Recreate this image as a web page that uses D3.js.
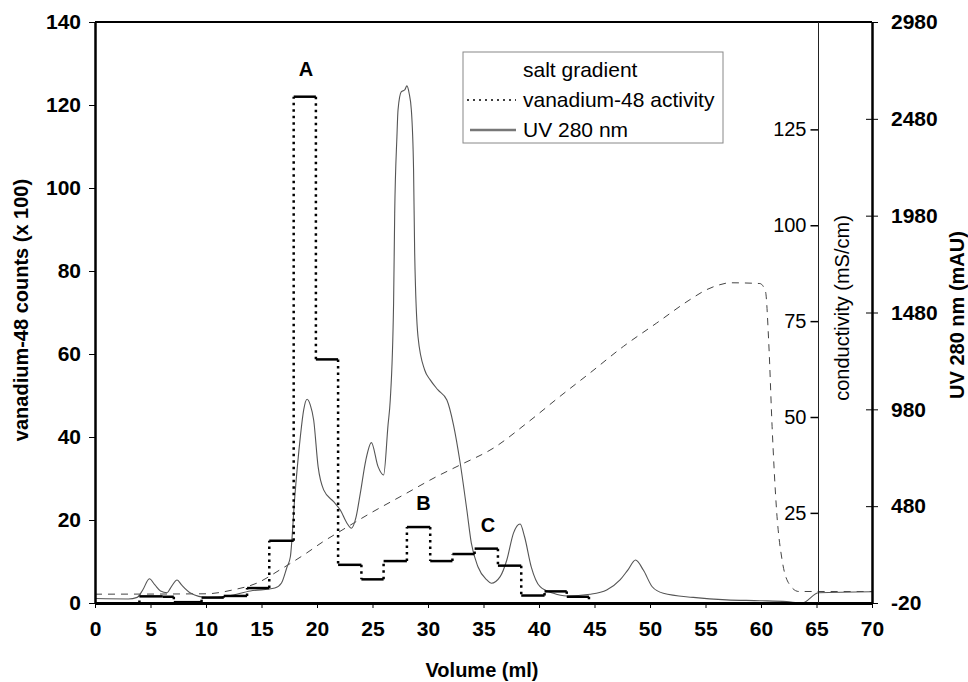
<!DOCTYPE html>
<html>
<head>
<meta charset="utf-8">
<script src="https://cdn.jsdelivr.net/npm/d3@7"></script>
<style>
  body { margin: 0; background: #fff; }
  svg { display: block; font-family: "Liberation Sans", Arial, sans-serif; }
</style>
</head>
<body>
<div id="vis"></div>
<script>
const width = 968;
const height = 682;

// vanadium-48 fractions: edges (ml) and counts (x 100) between them
const fracEdges = [4.0, 6.1, 7.1, 9.6, 11.6, 13.7, 15.7, 17.9, 19.9, 21.9, 24.0, 26.0, 28.1, 30.2, 32.2, 34.2, 36.3, 38.4, 40.5, 42.5, 44.5];
const fracCounts = [1.6, 1.5, 0.2, 1.3, 1.7, 3.6, 15, 122, 58.7, 9.2, 5.7, 10.1, 18.3, 10.1, 11.8, 13.1, 9.0, 1.8, 2.8, 1.5];

// UV 280 nm trace (ml, mAU)
const uvVolume = [0, 3.0, 3.8, 4.3, 4.9, 5.4, 5.9, 6.5, 6.8, 7.4, 7.8, 8.6, 10.1, 12.0, 14.0, 16.2, 16.8, 17.3, 17.6, 18.0, 18.5, 18.8, 19.1, 19.4, 19.7, 20.1, 20.6, 21.5, 22.1, 22.7, 23.1, 23.5, 23.9, 24.4, 24.9, 25.5, 26.0, 26.4, 26.6, 26.9, 27.0, 27.2, 27.3, 27.6, 27.9, 28.1, 28.3, 28.5, 28.7, 28.8, 29.1, 29.7, 30.2, 30.9, 31.7, 32.3, 32.9, 33.5, 33.9, 34.5, 35.3, 35.7, 36.5, 37.1, 37.7, 38.3, 38.7, 39.3, 40.1, 41.3, 42.5, 44.6, 46.1, 47.3, 48.0, 48.7, 49.4, 50.2, 51.2, 53.9, 56.9, 59.9, 62.3, 63.7, 65.2, 70];
const uvValue = [3, 1, 9, 47, 105, 73, 42, 33, 57, 99, 73, 32, 9, 16, 42, 57, 83, 166, 219, 529, 839, 977, 1032, 1002, 925, 684, 564, 503, 460, 392, 366, 419, 546, 718, 808, 684, 641, 900, 1028, 1528, 1992, 2388, 2526, 2620, 2629, 2650, 2612, 2526, 2216, 1787, 1355, 1183, 1132, 1080, 1028, 899, 703, 460, 290, 167, 99, 82, 116, 202, 341, 388, 322, 167, 64, 30, 16, 25, 47, 99, 150, 202, 150, 64, 30, 9, -4, -8, -13, -20, 33, 38];

// salt gradient (ml, mS/cm)
const saltVolume = [0, 10.0, 12.4, 14.6, 16.8, 19.1, 20.5, 21.8, 24.8, 27.8, 30.8, 32.9, 35.9, 38.9, 41.9, 44.6, 47.6, 50.6, 53.6, 55.1, 56.3, 57.2, 59.9, 60.4, 60.7, 61.0, 61.4, 61.9, 62.6, 63.4, 65.2, 70];
const saltValue = [3.8, 3.9, 4.9, 6.7, 10.4, 14.6, 17.4, 19.7, 24.9, 29.7, 34.5, 37.5, 41.9, 48.4, 55.4, 61.5, 68.4, 74.5, 80.6, 83.2, 84.5, 85.0, 84.8, 82.8, 69.3, 47.5, 25.8, 12.7, 6.2, 4.5, 4.5, 4.5];

const xTicks = d3.range(0, 71, 5);
const countTicks = d3.range(0, 141, 20);
const uvTicks = [-20, 480, 980, 1480, 1980, 2480, 2980];
const condTicks = [25, 50, 75, 100, 125];

const peakLabels = [
  { name: "A", x: 19.0, y: 127 },
  { name: "B", x: 29.6, y: 22.5 },
  { name: "C", x: 35.4, y: 17 }
];

const plotL = 95, plotR = 872, plotT = 22, plotB = 603;

const x = d3.scaleLinear().domain([0, 70]).range([plotL, plotR]);
const yCount = d3.scaleLinear().domain([0, 140]).range([plotB, plotT]);
const yUV = d3.scaleLinear().domain([-20, 2980]).range([plotB, plotT]);
const yCond = d3.scaleLinear().domain([1.5, 153]).range([plotB, plotT]);

const svg = d3.select("#vis").append("svg")
    .attr("width", width)
    .attr("height", height);

// salt gradient
const saltLine = d3.line()
    .x((d, i) => x(saltVolume[i]))
    .y((d, i) => yCond(saltValue[i]))
    .curve(d3.curveMonotoneX);
svg.append("path")
    .datum(saltValue)
    .attr("d", saltLine)
    .attr("fill", "none")
    .attr("stroke", "#444")
    .attr("stroke-width", 1)
    .attr("stroke-dasharray", "7,6");

// UV trace
const uvLine = d3.line()
    .x((d, i) => x(uvVolume[i]))
    .y((d, i) => yUV(uvValue[i]))
    .curve(d3.curveMonotoneX);
svg.append("path")
    .datum(uvValue)
    .attr("d", uvLine)
    .attr("fill", "none")
    .attr("stroke", "#555")
    .attr("stroke-width", 1.1);

// vanadium steps: solid tops, dotted risers
const steps = fracCounts.map((v, i) => ({ x0: fracEdges[i], x1: fracEdges[i + 1], v: v }));
const risers = fracEdges.map((e, i) => ({
  x: e,
  a: i === 0 ? 0 : fracCounts[i - 1],
  b: i < fracCounts.length ? fracCounts[i] : 0
}));

svg.append("g")
  .selectAll("line")
  .data(risers)
  .join("line")
    .attr("x1", d => x(d.x))
    .attr("x2", d => x(d.x))
    .attr("y1", d => yCount(d.a))
    .attr("y2", d => yCount(d.b))
    .attr("stroke", "#000")
    .attr("stroke-width", 2.5)
    .attr("stroke-dasharray", "2.5,4");

svg.append("g")
  .selectAll("line")
  .data(steps)
  .join("line")
    .attr("x1", d => x(d.x0))
    .attr("x2", d => x(d.x1))
    .attr("y1", d => yCount(d.v))
    .attr("y2", d => yCount(d.v))
    .attr("stroke", "#000")
    .attr("stroke-width", 2.5);

// axes
const boldTick = g => g.selectAll("text")
    .attr("font-size", 21)
    .attr("font-weight", "bold")
    .attr("font-family", "Liberation Sans, Arial, sans-serif")
    .attr("fill", "#000");

svg.append("g")
    .attr("transform", `translate(0,${plotB})`)
    .call(d3.axisBottom(x).tickValues(xTicks).tickSize(5).tickPadding(13).tickSizeOuter(0))
    .call(g => g.select(".domain").attr("stroke-width", 3))
    .call(g => g.selectAll(".tick line").attr("stroke-width", 1))
    .call(boldTick);

svg.append("g")
    .attr("transform", `translate(${plotL},0)`)
    .call(d3.axisLeft(yCount).tickValues(countTicks).tickSize(6).tickPadding(8).tickSizeOuter(0))
    .call(g => g.select(".domain").attr("stroke-width", 2.5))
    .call(g => g.selectAll(".tick line").attr("stroke-width", 1))
    .call(boldTick);

// top frame
svg.append("line")
    .attr("x1", plotL).attr("x2", plotR)
    .attr("y1", plotT).attr("y2", plotT)
    .attr("stroke", "#000").attr("stroke-width", 2);

// UV axis on the right, ticks cross the line
svg.append("g")
    .attr("transform", `translate(${plotR},0)`)
    .call(d3.axisRight(yUV).tickValues(uvTicks).tickFormat(d => String(d))
        .tickSize(6).tickPadding(13).tickSizeOuter(0))
    .call(g => g.select(".domain").attr("stroke-width", 2.5))
    .call(g => g.selectAll(".tick line").attr("x1", -6).attr("stroke-width", 1))
    .call(boldTick);

// conductivity axis at 65 ml
const condX = x(65) + 2;
svg.append("g")
    .attr("transform", `translate(${condX},0)`)
    .call(d3.axisLeft(yCond).tickValues(condTicks).tickSize(8).tickPadding(4).tickSizeOuter(0))
    .call(g => g.select(".domain").remove())
    .call(g => g.selectAll(".tick line").attr("stroke-width", 1.5))
    .call(g => g.selectAll("text")
        .attr("font-size", 20)
        .attr("font-family", "Liberation Sans, Arial, sans-serif")
        .attr("fill", "#000"));
svg.append("line")
    .attr("x1", condX).attr("x2", condX)
    .attr("y1", plotT).attr("y2", plotB)
    .attr("stroke", "#222").attr("stroke-width", 1);

// axis titles
svg.append("text")
    .attr("x", 482).attr("y", 677)
    .attr("text-anchor", "middle")
    .attr("font-size", 20).attr("font-weight", "bold")
    .text("Volume (ml)");

svg.append("text")
    .attr("transform", "translate(21,310) rotate(-90)")
    .attr("text-anchor", "middle")
    .attr("dy", "0.35em")
    .attr("font-size", 20).attr("font-weight", "bold")
    .text("vanadium-48 counts (x 100)");

svg.append("text")
    .attr("transform", "translate(842,308) rotate(-90)")
    .attr("text-anchor", "middle")
    .attr("dy", "0.35em")
    .attr("font-size", 20)
    .text("conductivity (mS/cm)");

svg.append("text")
    .attr("transform", "translate(957,315) rotate(-90)")
    .attr("text-anchor", "middle")
    .attr("dy", "0.35em")
    .attr("font-size", 20).attr("font-weight", "bold")
    .text("UV 280 nm (mAU)");

// peak labels
svg.append("g")
  .selectAll("text")
  .data(peakLabels)
  .join("text")
    .attr("x", d => x(d.x))
    .attr("y", d => yCount(d.y))
    .attr("text-anchor", "middle")
    .attr("font-size", 20).attr("font-weight", "bold")
    .text(d => d.name);

// legend
const legend = svg.append("g").attr("transform", "translate(463,52)");
legend.append("rect")
    .attr("width", 260).attr("height", 91)
    .attr("fill", "#fff")
    .attr("stroke", "#888").attr("stroke-width", 1);
const legendItems = [
  { label: "salt gradient", dash: null, color: "none", w: 0 },
  { label: "vanadium-48 activity", dash: "2,4", color: "#000", w: 1.5 },
  { label: "UV 280 nm", dash: null, color: "#777", w: 2.5 }
];
const li = legend.selectAll("g")
  .data(legendItems)
  .join("g")
    .attr("transform", (d, i) => `translate(0,${18 + i * 30})`);
li.append("line")
    .attr("x1", d => d.dash ? 4 : 7).attr("x2", 53)
    .attr("stroke", d => d.color)
    .attr("stroke-width", d => d.w)
    .attr("stroke-dasharray", d => d.dash);
li.append("text")
    .attr("x", 60)
    .attr("dy", "0.35em")
    .attr("font-size", 21)
    .text(d => d.label);
</script>
</body>
</html>
